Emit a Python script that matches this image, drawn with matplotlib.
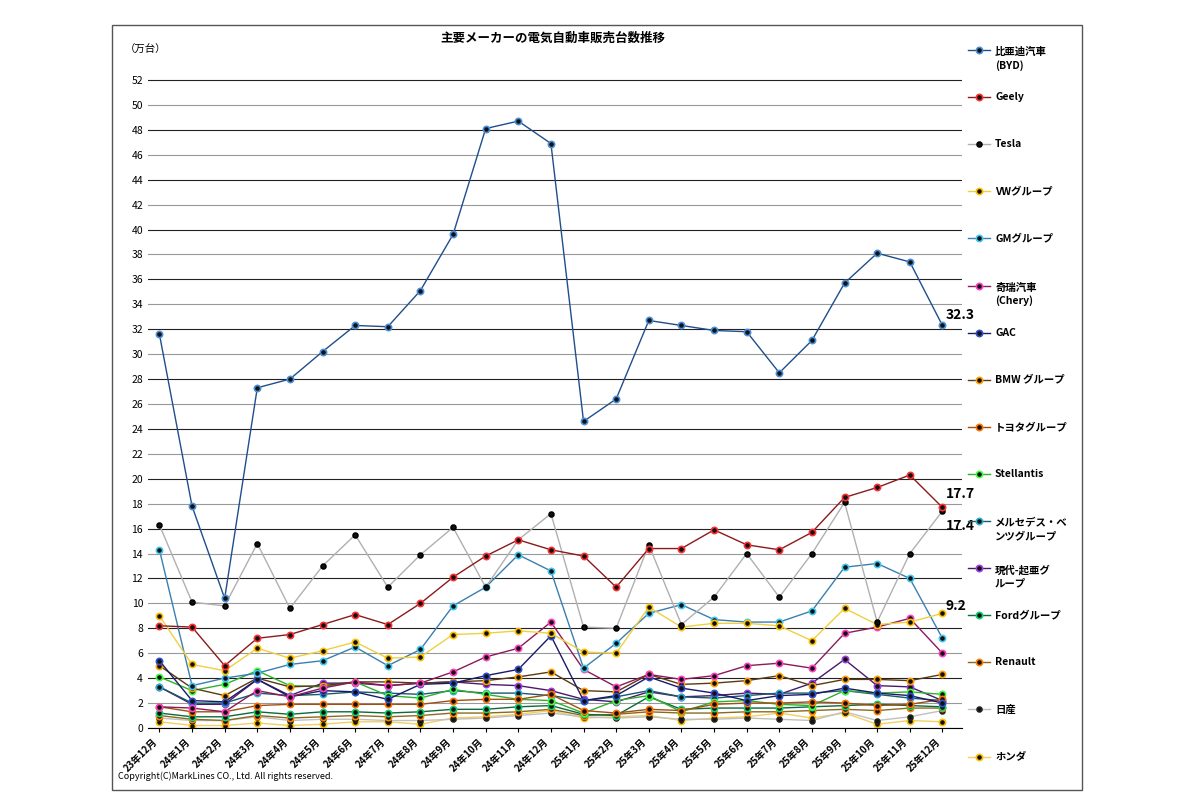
import matplotlib.pyplot as plt
from matplotlib.lines import Line2D
from matplotlib.patches import Rectangle

plt.rcParams['font.family'] = ['Noto Sans CJK JP', 'DejaVu Sans']

months = ['23年12月'] + ['24年%d月' % m for m in range(1, 13)] + ['25年%d月' % m for m in range(1, 13)]

byd = [31.6, 17.8, 10.4, 27.3, 28.0, 30.2, 32.3, 32.2, 35.1, 39.6, 48.1, 48.7, 46.9,
       24.6, 26.4, 32.7, 32.3, 31.9, 31.8, 28.5, 31.1, 35.7, 38.1, 37.4, 32.3]
geely = [8.2, 8.1, 5.0, 7.2, 7.5, 8.3, 9.1, 8.3, 10.0, 12.1, 13.8, 15.1, 14.3,
         13.8, 11.3, 14.4, 14.4, 15.9, 14.7, 14.3, 15.7, 18.5, 19.3, 20.3, 17.7]
tesla = [16.3, 10.1, 9.8, 14.8, 9.6, 13.0, 15.5, 11.3, 13.9, 16.1, 11.3, 15.1, 17.2,
         8.1, 8.0, 14.7, 8.3, 10.5, 14.0, 10.5, 14.0, 18.1, 8.5, 14.0, 17.4]
vw = [9.0, 5.1, 4.6, 6.4, 5.6, 6.2, 6.9, 5.6, 5.7, 7.5, 7.6, 7.8, 7.6,
      6.1, 6.0, 9.7, 8.1, 8.4, 8.4, 8.2, 7.0, 9.6, 8.3, 8.5, 9.2]
gm = [14.3, 3.4, 4.0, 4.4, 5.1, 5.4, 6.5, 5.0, 6.3, 9.8, 11.3, 13.9, 12.6,
      4.8, 6.8, 9.2, 9.9, 8.7, 8.5, 8.5, 9.4, 12.9, 13.2, 12.0, 7.2]
chery = [1.7, 1.6, 1.3, 3.0, 2.5, 3.2, 3.7, 3.4, 3.6, 4.5, 5.7, 6.4, 8.5,
         4.7, 3.3, 4.3, 3.9, 4.2, 5.0, 5.2, 4.8, 7.6, 8.1, 8.8, 6.0]
gac = [5.4, 2.2, 2.1, 3.9, 2.5, 3.0, 2.9, 2.3, 3.5, 3.6, 4.2, 4.7, 7.4,
       2.2, 2.6, 4.1, 3.2, 2.8, 2.2, 2.6, 2.7, 3.2, 2.8, 2.6, 2.0]
bmw = [5.0, 3.2, 2.6, 4.0, 3.3, 3.4, 3.7, 3.7, 3.6, 3.7, 3.8, 4.1, 4.5,
       3.0, 2.9, 4.3, 3.5, 3.6, 3.8, 4.2, 3.4, 3.9, 3.9, 3.8, 4.3]
toyota = [1.7, 1.3, 1.3, 1.8, 1.9, 1.9, 1.9, 1.9, 1.9, 2.2, 2.3, 2.3, 2.7,
          1.4, 1.2, 1.5, 1.4, 1.9, 2.0, 2.0, 2.1, 2.0, 1.8, 1.9, 2.3]
stellantis = [4.1, 3.0, 3.5, 4.6, 3.4, 3.3, 3.7, 2.6, 2.4, 3.1, 2.7, 2.3, 2.2,
              1.2, 2.2, 2.6, 1.3, 2.1, 2.2, 1.9, 1.8, 3.0, 2.8, 2.9, 2.7]
mercedes = [3.3, 2.0, 2.0, 2.8, 2.6, 2.7, 2.9, 2.8, 2.7, 3.0, 2.8, 2.8, 2.6,
            2.2, 2.5, 3.0, 2.5, 2.4, 2.6, 2.8, 2.8, 3.0, 2.7, 2.4, 2.2]
hyundai = [3.3, 1.9, 1.9, 3.9, 2.6, 3.6, 3.6, 3.4, 3.6, 3.7, 3.5, 3.4, 3.0,
           2.3, 2.1, 2.9, 2.5, 2.6, 2.8, 2.7, 3.6, 5.5, 3.4, 3.3, 2.2]
ford = [1.2, 0.9, 0.9, 1.3, 1.1, 1.3, 1.3, 1.2, 1.3, 1.5, 1.5, 1.7, 1.8,
        1.1, 1.0, 2.5, 1.5, 1.6, 1.6, 1.6, 1.7, 1.8, 1.9, 1.8, 1.7]
renault = [1.0, 0.7, 0.6, 1.0, 0.8, 0.9, 1.0, 0.9, 1.0, 1.2, 1.2, 1.3, 1.5,
           1.0, 1.1, 1.3, 1.2, 1.2, 1.3, 1.3, 1.4, 1.5, 1.4, 1.6, 1.6]
nissan = [0.8, 0.6, 0.6, 0.9, 0.6, 0.7, 0.7, 0.6, 0.6, 0.7, 0.8, 1.0, 1.2,
          0.9, 0.8, 0.9, 0.7, 0.7, 0.8, 0.7, 0.6, 1.3, 0.6, 0.9, 1.4]
honda = [0.5, 0.2, 0.2, 0.4, 0.2, 0.3, 0.5, 0.5, 0.3, 0.8, 0.9, 1.1, 1.4,
         0.8, 0.9, 1.0, 0.6, 0.8, 0.9, 1.2, 0.8, 1.2, 0.3, 0.6, 0.5]

# label, values, line colour, marker edge colour, marker size
series = [
    ('比亜迪汽車\n(BYD)', byd, '#1f4e8c', '#4a90d9', 4.5),
    ('Geely', geely, '#8b1a1a', '#ff3030', 4.5),
    ('Tesla', tesla, '#b0b0b0', '#000000', 3.5),
    ('VWグループ', vw, '#f0d040', '#ffc000', 4.5),
    ('GMグループ', gm, '#3a7fb0', '#40c8f0', 4.5),
    ('奇瑞汽車\n(Chery)', chery, '#8b1a5a', '#ff40c0', 4.5),
    ('GAC', gac, '#1a1a6a', '#3050d0', 4.5),
    ('BMW グループ', bmw, '#5a3a10', '#ffa000', 4.5),
    ('トヨタグループ', toyota, '#a05010', '#ff7000', 4.5),
    ('Stellantis', stellantis, '#30b030', '#40ff40', 4.5),
    ('メルセデス・ベ\nンツグループ', mercedes, '#1a5a6a', '#30b0d0', 4.5),
    ('現代-起亜グ\nループ', hyundai, '#4a1a6a', '#a040e0', 4.5),
    ('Fordグループ', ford, '#0a6a3a', '#10d070', 4.5),
    ('Renault', renault, '#8a6a20', '#ff8000', 4.5),
    ('日産', nissan, '#c0c0c0', '#202020', 3.5),
    ('ホンダ', honda, '#f0d060', '#ffc000', 4.5),
]

fig = plt.figure(figsize=(12, 7.99), dpi=100)
fig.patches.append(Rectangle((112 / 1200, 9 / 799), 970 / 1200, 765 / 799,
                             transform=fig.transFigure, fill=False, lw=1, color='#555555'))
ax = fig.add_axes([148 / 1200, 71 / 799, 814 / 1200, 658 / 799])

x = list(range(len(months)))
for i in range(0, 53, 2):
    ax.axhline(i, color='#222222' if i % 4 == 0 else '#999999', lw=0.8, zorder=0)

for label, vals, lc, mc, ms in series[::-1]:
    ax.plot(x, vals, color=lc, lw=1.0, marker='o', ms=ms,
            markerfacecolor='#111111', markeredgecolor=mc, markeredgewidth=1.2)

ax.set_xlim(-0.35, 24.6)
ax.set_ylim(0, 52.8)
ax.set_yticks(range(0, 53, 2))
ax.tick_params(axis='y', length=0, labelsize=7.5)
ax.set_xticks(x)
ax.set_xticklabels(months, rotation=45, ha='right', fontsize=7, fontweight='bold')
ax.tick_params(axis='x', length=3)
for s in ['top', 'right', 'left']:
    ax.spines[s].set_visible(False)

for val, dy in [(byd[-1], 0.3), (geely[-1], 0.5), (tesla[-1], -0.6), (vw[-1], 0.0)]:
    ax.text(24.1, val + dy, '%.1f' % val, fontsize=10, fontweight='bold', va='bottom' if dy >= 0 else 'top')

fig.text(440 / 1200, 1 - 38 / 799, '主要メーカーの電気自動車販売台数推移', fontsize=9, fontweight='bold', va='center')
fig.text(125 / 1200, 1 - 50 / 799, '（万台）', fontsize=7.5, va='center')
fig.text(118 / 1200, 1 - 776 / 799, 'Copyright(C)MarkLines CO., Ltd. All rights reserved.', fontsize=6.5, va='center')

# legend drawn on the right side
for i, (label, vals, lc, mc, ms) in enumerate(series):
    yy = 1 - (50 + 47.1 * i) / 799
    fig.add_artist(Line2D([968 / 1200, 990 / 1200], [yy, yy], color=lc, lw=1.0,
                          transform=fig.transFigure))
    fig.add_artist(Line2D([979 / 1200], [yy], marker='o', ms=ms, markerfacecolor='#111111',
                          markeredgecolor=mc, markeredgewidth=1.2, transform=fig.transFigure))
    fig.text(995 / 1200, yy + (0.0 if '\n' not in label else -0.011), label, fontsize=7.5,
             fontweight='bold', va='center', linespacing=1.3)

fig.savefig('out.png', dpi=100)
